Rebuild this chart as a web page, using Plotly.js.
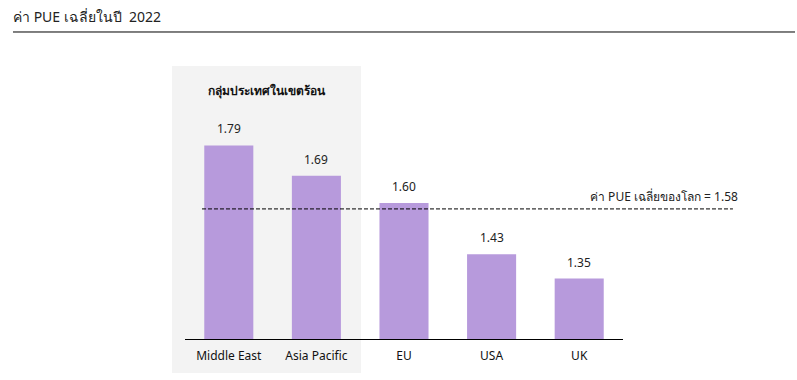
<!DOCTYPE html>
<html>
<head>
<meta charset="utf-8">
<script src="https://cdn.plot.ly/plotly-3.0.1.min.js"></script>
<style>html,body{margin:0;padding:0;background:#fff;}#chart{width:797px;height:380px;}</style>
</head>
<body>
<div id="chart"></div>
<script>
const categories = ['Middle East', 'Asia Pacific', 'EU', 'USA', 'UK'];
const pueValues = [1.79, 1.69, 1.60, 1.43, 1.35];
const valueLabels = ['1.79', '1.69', '1.60', '1.43', '1.35'];
const globalAverage = 1.58;
const chartTitle = 'ค่า PUE เฉลี่ยในปี  2022';
const groupLabel = 'กลุ่มประเทศในเขตร้อน';
const averageLabel = 'ค่า PUE เฉลี่ยของโลก = ' + globalAverage.toFixed(2);

const FONT = 'Noto Sans, sans-serif';
const TXT = '#222222';

const barTrace = {
  type: 'bar',
  x: categories,
  y: pueValues,
  marker: {color: '#b79adc'},
  hoverinfo: 'skip'
};

const valueAnnotations = categories.map((c, i) => ({
  x: c, y: pueValues[i], xref: 'x', yref: 'y',
  text: valueLabels[i], showarrow: false,
  yanchor: 'bottom', yshift: 6,
  font: {family: FONT, size: 12, color: TXT}
}));

const layout = {
  width: 797, height: 380,
  margin: {l: 185, r: 174, t: 97, b: 41},
  paper_bgcolor: '#ffffff', plot_bgcolor: 'rgba(0,0,0,0)',
  bargap: 0.44,
  showlegend: false,
  title: {
    text: chartTitle, x: 13/797, xanchor: 'left', xref: 'container',
    y: 1 - 17/380, yanchor: 'middle', yref: 'container',
    font: {family: FONT, size: 14, color: '#222'}
  },
  xaxis: {
    range: [-0.5, 4.5], showgrid: false, zeroline: false,
    showline: true, linecolor: '#000', linewidth: 1,
    ticks: '', ticklabelstandoff: 6,
    tickfont: {family: FONT, size: 12, color: '#111'}, fixedrange: true
  },
  yaxis: {
    range: [1.15, 1.95], visible: false, fixedrange: true
  },
  shapes: [
    {type: 'rect', layer: 'below', xref: 'paper', yref: 'paper',
     x0: -0.0297, x1: 0.4018, y0: -0.14, y1: 1.128,
     fillcolor: '#f3f3f3', line: {width: 0}},
    {type: 'line', xref: 'paper', yref: 'paper',
     x0: -0.3927, x1: 1.3927, y0: 1.2686, y1: 1.2686,
     line: {color: '#000', width: 1}},
    {type: 'line', xref: 'paper', yref: 'y',
     x0: 0.0388, x1: 1.251, y0: globalAverage, y1: globalAverage,
     line: {color: '#000', width: 1, dash: '4px,2px'}}
  ],
  annotations: valueAnnotations.concat([
    {xref: 'paper', yref: 'paper', x: 0.1861, y: 1.028, xanchor: 'center', yanchor: 'middle',
     text: '<b>' + groupLabel + '</b>', showarrow: false,
     font: {family: FONT, size: 12, color: '#111'}},
    {xref: 'paper', yref: 'y', x: 1.267, y: globalAverage, xanchor: 'right', yanchor: 'bottom',
     yshift: 2, text: averageLabel, showarrow: false,
     font: {family: FONT, size: 12, color: TXT}}
  ])
};

Plotly.newPlot('chart', [barTrace], layout, {displayModeBar: false, staticPlot: true});
</script>
</body>
</html>
